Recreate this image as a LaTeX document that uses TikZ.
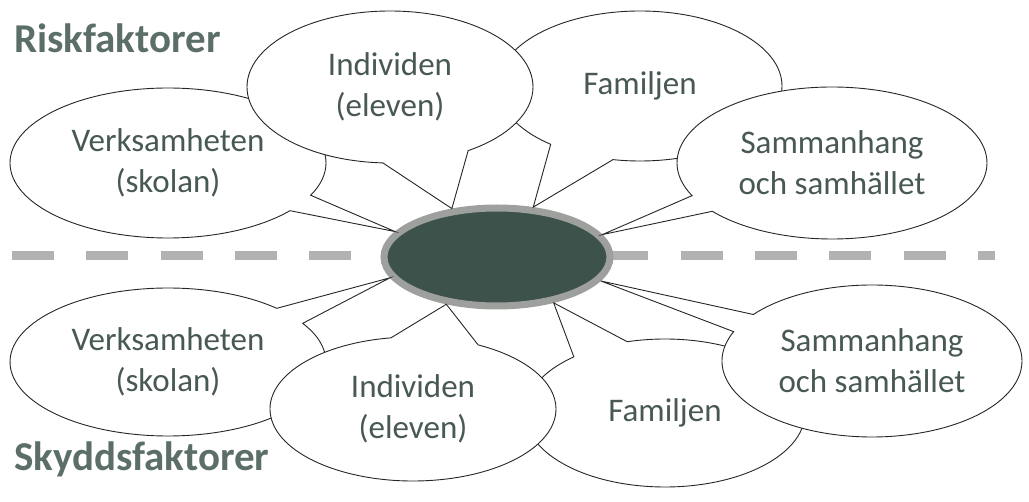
\documentclass[tikz,border=0pt]{standalone}
\usepackage{fontspec}
\setmainfont{Carlito}
\usetikzlibrary{shapes.geometric,shapes.callouts}
\definecolor{textgron}{RGB}{72,88,82}
\definecolor{rubrikgron}{RGB}{92,110,104}
\definecolor{mittfyll}{RGB}{62,82,76}
\definecolor{mittkant}{RGB}{158,160,158}
\definecolor{streckgra}{RGB}{178,178,178}
\begin{document}
\begin{tikzpicture}[x=1pt, y=-1pt,
  ballong/.style={ellipse callout, draw=black!85, line width=0.9pt, fill=white, text=textgron,
    align=center, inner sep=0pt, font=\fontsize{33}{41}\selectfont},
  rubrik/.style={anchor=base west, inner sep=0pt, text=rubrikgron, font=\fontsize{41}{48}\selectfont\bfseries}]
\useasboundingbox (0,0) rectangle (1029,502);
% skiljelinje
\coordinate (linjestart) at (12,256);
\coordinate (linjeslut) at (995,256);
\draw[streckgra, line width=9pt, dash pattern=on 42pt off 32.3pt] (linjestart) -- (linjeslut);
\node[shape=ellipse, draw=mittkant, line width=7pt, fill=mittfyll, minimum width=226, minimum height=98] (mitt) at (497,257) {};
% riskfaktorer
\node[ballong, minimum width=316, minimum height=150, callout pointer arc=14, callout absolute pointer={(mitt.166)}] (riskskola) at (168,163) {Verksamheten\\(skolan)};
\node[ballong, minimum width=284, minimum height=150, callout pointer arc=28, callout absolute pointer={(mitt.54)}] (riskfamilj) at (640,86) {Familjen};
\node[ballong, minimum width=286, minimum height=152, callout pointer arc=36, callout absolute pointer={(mitt.133)}] (riskelev) at (390,87) {Individen\\(eleven)};
\node[ballong, minimum width=310, minimum height=152, callout pointer arc=14, callout absolute pointer={(mitt.12)}] (risksamhalle) at (832,163) {Sammanhang\\och samhället};
% skyddsfaktorer
\node[ballong, minimum width=316, minimum height=148, callout pointer arc=15, callout absolute pointer={(mitt.191)}] (skyddskola) at (168,362) {Verksamheten\\(skolan)};
\node[ballong, minimum width=280, minimum height=148, callout pointer arc=25, callout absolute pointer={(mitt.321)}] (skyddfamilj) at (665,413) {Familjen};
\node[ballong, minimum width=286, minimum height=144, callout pointer arc=36, callout absolute pointer={(mitt.223)}] (skyddelev) at (413,409) {Individen\\(eleven)};
\node[ballong, minimum width=300, minimum height=152, callout pointer arc=15, callout absolute pointer={(mitt.347)}] (skyddsamhalle) at (872,361) {Sammanhang\\och samhället};
\node[rubrik] (risk) at (14,53) {Riskfaktorer};
\node[rubrik] (skydd) at (14,471) {Skyddsfaktorer};
\end{tikzpicture}
\end{document}
